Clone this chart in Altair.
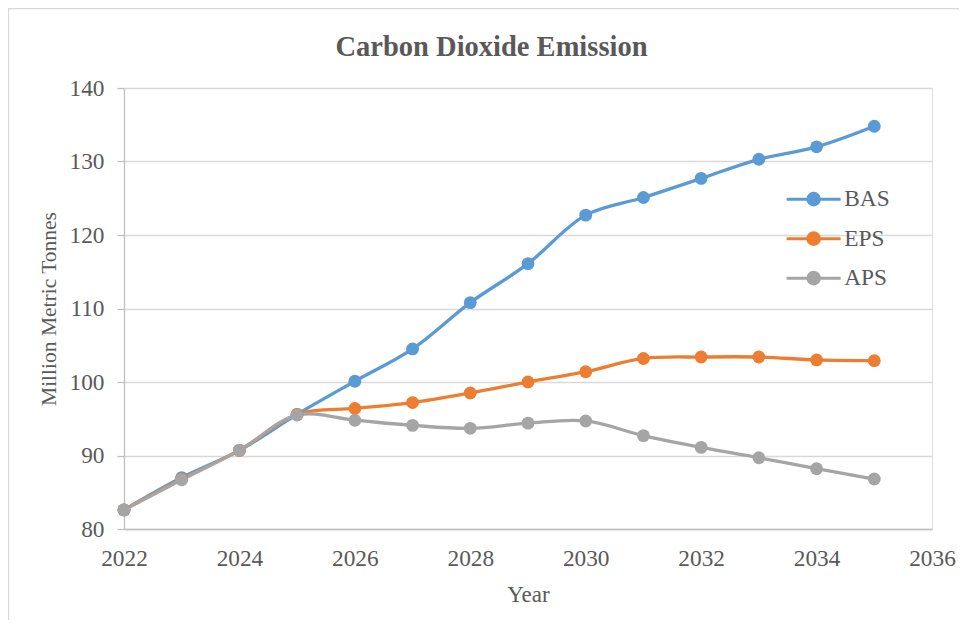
import altair as alt
import pandas as pd

years = list(range(2022, 2036))
series = ["BAS", "EPS", "APS"]
colors = ["#5B9BD5", "#ED7D31", "#A5A5A5"]
bas = [82.6, 87.0, 90.7, 95.6, 100.1, 104.5, 110.8, 116.1, 122.7, 125.1, 127.7, 130.3, 132.0, 134.8]
eps = [82.6, 86.8, 90.7, 95.6, 96.4, 97.2, 98.5, 100.0, 101.4, 103.2, 103.4, 103.4, 103.0, 102.9]
aps = [82.6, 86.7, 90.7, 95.5, 94.8, 94.1, 93.7, 94.4, 94.7, 92.7, 91.1, 89.7, 88.2, 86.8]
y_ticks = [80, 90, 100, 110, 120, 130, 140]
x_ticks = [2022, 2024, 2026, 2028, 2030, 2032, 2034, 2036]

rows = []
for name, vals in zip(series, [bas, eps, aps]):
    for yr, v in zip(years, vals):
        rows.append({"Year": yr, "Value": v, "Series": name})
df = pd.DataFrame(rows)

FONT = "Liberation Serif"
TXT = "#595959"

legend_path = ("M-5.4,0L5.4,0M-1.16,0A1.16,1.16,0,1,0,1.16,0"
               "A1.16,1.16,0,1,0,-1.16,0Z")

color = alt.Color(
    "Series:N",
    scale=alt.Scale(domain=series, range=colors),
    sort=series,
    legend=alt.Legend(
        title=None,
        orient="none",
        legendX=678,
        legendY=99.5,
        symbolType=legend_path,
        symbolSize=100,
        symbolStrokeWidth=3,
        symbolOpacity=1,
        labelFont=FONT,
        labelFontSize=23.3,
        labelColor=TXT,
        labelOffset=19,
        rowPadding=14.5,
    ),
)

x = alt.X(
    "Year:Q",
    scale=alt.Scale(domain=[2022, 2036], nice=False, zero=False),
    axis=alt.Axis(
        values=x_ticks, format="d", grid=False, ticks=False, tickSize=0,
        labelPadding=36, labelBaseline="alphabetic",
        labelFont=FONT, labelFontSize=23.3, labelColor=TXT,
        domainColor="#BFBFBF", domainWidth=1.3,
        title="Year", titleFont=FONT, titleFontSize=23, titleFontWeight="normal",
        titleColor=TXT, titleBaseline="alphabetic", titleY=72, titleAlign="center",
        labelFlush=False, labelOverlap=False,
    ),
)
y = alt.Y(
    "Value:Q",
    scale=alt.Scale(domain=[80, 140], nice=False, zero=False),
    axis=alt.Axis(
        values=y_ticks, grid=True, gridColor="#D9D9D9", gridWidth=1.3,
        tickSize=7, tickColor="#BFBFBF", tickWidth=1.3, labelPadding=13,
        labelFont=FONT, labelFontSize=23.3, labelColor=TXT,
        labelAlign="right", labelBaseline="middle",
        domainColor="#BFBFBF", domainWidth=1.3,
        title="Million Metric Tonnes", titleFont=FONT, titleFontSize=21.5,
        titleFontWeight="normal", titleColor=TXT, titleBaseline="alphabetic",
        titleX=-69, titleY=220.5, titleAlign="center", titleAngle=270,
        labelFlush=False, labelOverlap=False,
    ),
)

base = alt.Chart(df)
lines = base.mark_line(interpolate="catmull-rom", strokeWidth=3.3).encode(
    x=x, y=y, color=color, detail="Series:N"
)
points = base.mark_point(filled=True, size=165, opacity=1, strokeWidth=0).encode(
    x=x, y=y, color=color
)

frame_df = pd.DataFrame({"k": [0]})
left_border = alt.Chart(frame_df).mark_rule(color="#D9D9D9", strokeWidth=1.3).encode(
    x=alt.value(-115.5), y=alt.value(-80), y2=alt.value(540)
)
top_border = alt.Chart(frame_df).mark_rule(color="#D9D9D9", strokeWidth=1.3).encode(
    y=alt.value(-79.5), x=alt.value(-116), x2=alt.value(840)
)

chart = alt.layer(left_border, top_border, lines, points).properties(
    width=808,
    height=441,
    autosize=alt.AutoSizeParams(type="none"),
    padding={"left": 116, "top": 80, "right": 27, "bottom": 91},
    title=alt.TitleParams(
        "Carbon Dioxide Emission",
        font=FONT, fontSize=28.5, fontWeight="bold", color=TXT,
        anchor="middle", frame="group", dx=-36.5, offset=-77, baseline="alphabetic",
    ),
).configure_view(stroke="#D0D0D0", strokeWidth=1.3).configure(background="white")

chart.save("out.html", embed_options={"renderer": "svg", "actions": False})
